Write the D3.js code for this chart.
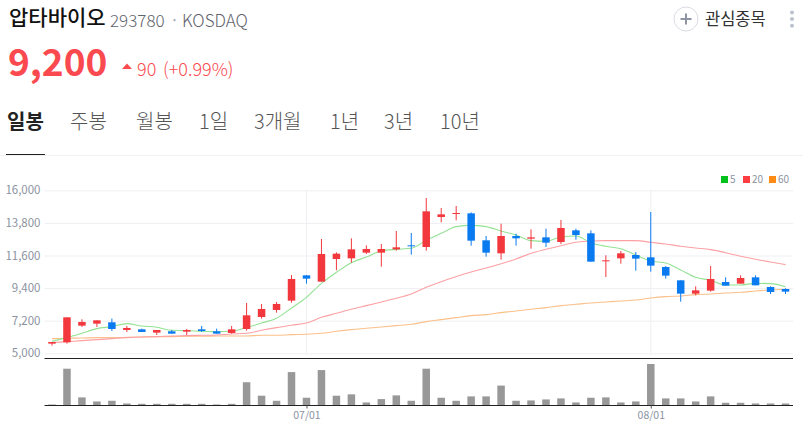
<!DOCTYPE html>
<html><head><meta charset="utf-8">
<script src="https://d3js.org/d3.v7.min.js"></script>
<style>html,body{margin:0;padding:0;background:#fff}svg{display:block}</style>
</head><body><svg id="c" width="803" height="427"></svg>
<script>
const open_ = [5652,5742,6866,7001,7091,6574,6619,6394,6484,6461,6619,6484,6372,6641,7451,7923,8553,10262,9835,11364,11409,11791,11791,12016,12286,12174,14198,14400,14445,12624,11746,12916,12736,12826,12511,13298,13096,11207,11409,11634,11477,10824,9925,9025,9228,9812,9700,10127,9475,9340];
const close_ = [5764,7428,7114,7226,6641,6709,6439,6574,6326,6574,6506,6326,6619,7563,7991,8328,10015,10037,11702,11724,12016,12039,12039,12151,12241,14580,14378,14468,12601,11791,12916,12759,12826,12466,13456,12983,11184,11274,11747,11387,10914,10240,9025,9250,10015,9565,10082,9588,9138,9160];
const high_ = [5764,7428,7293,7226,7339,6844,6664,6574,6574,6641,6844,6664,6844,8396,8328,8463,10285,10262,12714,11814,12759,12286,12376,13253,13118,15480,14805,14940,14513,12916,13748,13073,13366,13411,13996,13411,13298,11612,11904,11837,14535,10892,9925,9520,10892,10127,10262,10262,9520,9385];
const low_ = [5517,5652,6776,6776,6506,6439,6439,6236,6326,6236,6439,6326,6326,6529,7339,7743,8418,9700,9835,10600,11117,11702,10847,11926,11657,11926,13838,13973,12264,11522,11319,12264,12061,12174,12376,12669,11184,10150,11049,10577,10509,10037,8486,8913,9160,9565,9700,9588,9003,9003];
const ma5 = [5809,6057,6349,6664,6799,7001,6844,6754,6552,6529,6484,6461,6484,6731,7046,7361,8058,8778,9722,10465,11117,11499,11904,12016,12084,12624,13096,13546,13636,13546,13253,12983,12601,12556,12849,12916,12466,12219,12061,11634,11229,11094,10622,10127,9925,9610,9610,9722,9700,9497];
const ma20 = [5719,5787,5854,5922,5989,6057,6102,6124,6169,6192,6214,6236,6304,6349,6552,6731,6889,7046,7428,7698,7968,8216,8463,8710,9003,9453,9835,10172,10487,10757,11049,11364,11747,12016,12264,12489,12579,12601,12601,12601,12489,12376,12219,12106,11994,11791,11544,11342,11162,10982];
const ma60 = [5989,6012,6034,6057,6057,6079,6102,6124,6124,6146,6146,6169,6169,6169,6214,6214,6259,6282,6349,6484,6596,6686,6776,6866,6956,7136,7271,7406,7541,7608,7743,7856,7968,8081,8216,8306,8396,8463,8530,8598,8733,8823,8868,8958,9003,9070,9115,9205,9273,9318];
const volume = [3,109,24,12,14,6,5,5,5,5,5,3,5,69,29,14,99,23,105,29,33,9,19,30,14,109,23,14,27,27,59,14,15,18,21,9,23,24,9,12,123,21,21,12,27,8,8,6,6,6];
const yTicks = [5000,7200,9400,11600,13800,16000];
const xTickIndex = [17,40];
const xTickLabels = ["07/01","08/01"];
const tabs = ["일봉","주봉","월봉","1일","3개월","1년","3년","10년"];
const tabX = [7,70,136,199,254,330,384,440];
const legendNames = ["5","20","60"];
const legendX = [721,743,769];

const RED="#f2383d",BLUE="#0a7af0",GRID="#eeeff2",AXT="#8b93a1";
const KR='"Noto Sans CJK KR","Noto Sans",sans-serif';
const svg=d3.select("#c");
const idx=d3.range(open_.length);
const x=d3.scalePoint().domain(idx).range([52,785.5]);
const y=d3.scaleLinear().domain([5000,16000]).range([353.3,190.3]);
const v=d3.scaleLinear().domain([0,123]).range([405.5,364]);
const L=44.5,R=793;
function t(s,px,py,size,fill,weight,anchor,fam){return svg.append("text").attr("x",px).attr("y",py).attr("font-size",size).attr("fill",fill).attr("font-weight",weight||400).attr("text-anchor",anchor||"start").attr("font-family",fam||KR).text(s);}

// header
t("압타바이오",9,25,21,"#111",500);
t("293780",110,27,17,"#5f636c",300);
t("·",170,26,16,"#a8adb6",400);
t("KOSDAQ",182,27,17,"#5f636c",300);
t("9,200",8,76,37,"#fa4a4f",700);
svg.append("path").attr("d","M122 69L127 63.5L132 69Z").attr("fill","#fa4a4f");
t("90",137,76,18,"#fa4a4f",300);
t("(+0.99%)",163,76,18,"#fa4a4f",300);
svg.append("circle").attr("cx",686).attr("cy",19).attr("r",12).attr("fill","#fff").attr("stroke","#d9dce3").attr("stroke-width",1);
svg.append("path").attr("d","M680.5 19H691.5M686 13.5V24.5").attr("stroke","#8d94a3").attr("stroke-width",2);
t("관심종목",705,25,16.5,"#333",400);
[12.5,19,25.7].forEach(c=>svg.append("circle").attr("cx",792).attr("cy",c).attr("r",2).attr("fill","#bcc2cc"));
tabs.forEach((s,i)=>t(s,tabX[i],129,20,i==0?"#222":"#555",i==0?700:300));
svg.append("line").attr("x1",0).attr("x2",803).attr("y1",155.5).attr("y2",155.5).attr("stroke","#f1f2f4");
svg.append("line").attr("x1",6).attr("x2",45).attr("y1",154.5).attr("y2",154.5).attr("stroke","#222");

// legend
[["#00c21a"],["#ff3d43"],["#ff8a14"]].forEach((c,i)=>{
  svg.append("rect").attr("x",legendX[i]).attr("y",176).attr("width",7).attr("height",7).attr("fill",c[0]);
  t(legendNames[i],legendX[i]+9,183,10,AXT,400);
});

// grid + axes
const yAxis=d3.axisLeft(y).tickValues(yTicks).tickFormat(d3.format(",")).tickSize(-(R-L)).tickPadding(4);
const ga=svg.append("g").attr("transform",`translate(${L},0)`).call(yAxis);
ga.select(".domain").remove();
ga.selectAll("line").attr("stroke",GRID);
ga.selectAll("text").attr("fill",AXT).attr("font-size",11.5).attr("font-family",KR);
xTickIndex.forEach(i=>svg.append("line").attr("x1",x(i)).attr("x2",x(i)).attr("y1",190).attr("y2",353).attr("stroke",GRID));

// moving averages
const line=a=>d3.line().x((d,i)=>x(i)).y(d=>y(d)).curve(d3.curveMonotoneX)(a);
[[ma60,"#fbc08a"],[ma20,"#fda0a3"],[ma5,"#93e293"]].forEach(([a,c])=>svg.append("path").attr("d",line(a)).attr("fill","none").attr("stroke",c).attr("stroke-width",1.1));

// candles
idx.forEach(i=>{
  const c=close_[i]>=open_[i]?RED:BLUE, px=x(i), top=y(Math.max(open_[i],close_[i])), bot=y(Math.min(open_[i],close_[i]));
  svg.append("line").attr("x1",px).attr("x2",px).attr("y1",y(high_[i])).attr("y2",y(low_[i])).attr("stroke",c).attr("stroke-width",1);
  svg.append("rect").attr("x",px-3.75).attr("width",7.5).attr("y",top).attr("height",Math.max(1,bot-top)).attr("fill",c);
});

// volume
svg.append("g").selectAll("rect").data(volume).join("rect")
  .attr("x",(d,i)=>x(i)-3.75).attr("width",7.5).attr("y",d=>v(d)).attr("height",d=>v(0)-v(d)).attr("fill","#989898");
svg.append("line").attr("x1",L).attr("x2",R).attr("y1",358.5).attr("y2",358.5).attr("stroke","#222");
svg.append("line").attr("x1",L).attr("x2",R).attr("y1",405.5).attr("y2",405.5).attr("stroke","#222");
const xAxis=d3.axisBottom(x).tickValues(xTickIndex).tickFormat(d=>xTickLabels[xTickIndex.indexOf(d)]).tickSize(3).tickPadding(3);
const gx=svg.append("g").attr("transform","translate(0,405.5)").call(xAxis);
gx.select(".domain").remove();
gx.selectAll("line").attr("stroke","#555");
gx.selectAll("text").attr("fill",AXT).attr("font-size",10.5).attr("font-family",KR);
</script></body></html>
